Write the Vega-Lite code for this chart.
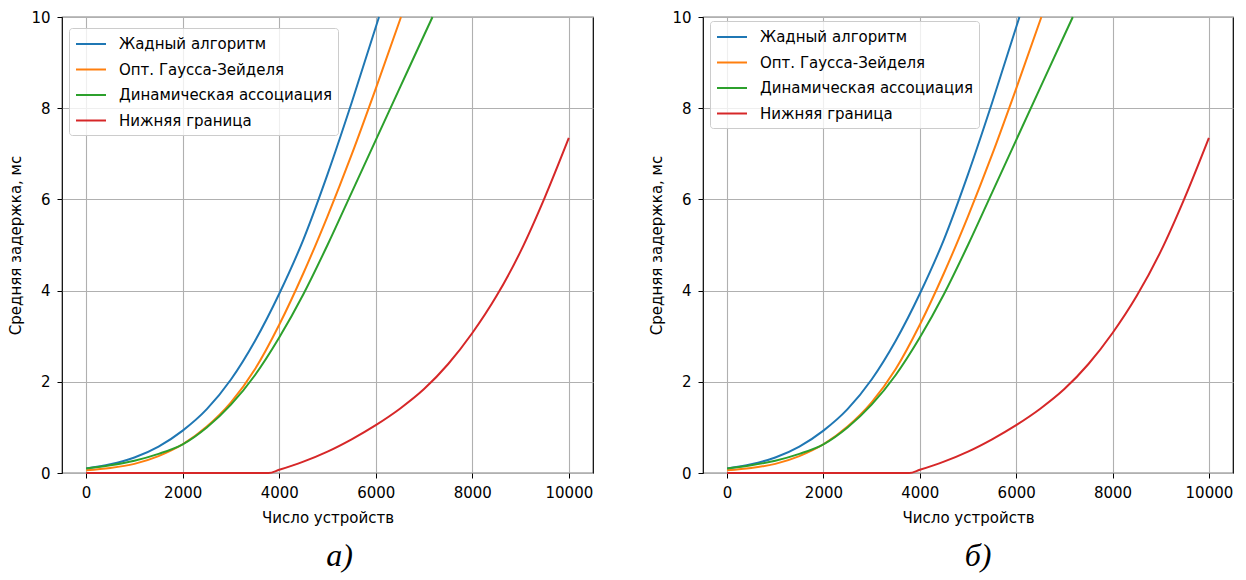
{
  "$schema": "https://vega.github.io/schema/vega-lite/v6.json",
  "background": "white",
  "padding": {"left": 8, "top": 9, "right": 5, "bottom": 5},
  "config": {
    "font": "DejaVu Sans",
    "view": {"stroke": "black", "strokeWidth": 1.2},
    "axis": {
      "labelFont": "DejaVu Sans", "labelFontSize": 15, "labelColor": "black",
      "titleFont": "DejaVu Sans", "titleFontSize": 15, "titleFontWeight": "normal", "titleColor": "black",
      "gridColor": "#b0b0b0", "gridWidth": 1.1, "gridOpacity": 1,
      "domain": false, "tickColor": "black", "tickSize": 5, "tickWidth": 1, "labelPadding": 7,
      "labelFlush": false, "labelOverlap": false
    },
    "legend": {
      "labelFont": "DejaVu Sans", "labelFontSize": 15, "labelColor": "black", "labelLimit": 400
    }
  },
  "datasets": {
    "curves": [
      {"x": 0, "y": 0.10, "s": "Жадный алгоритм"},
      {"x": 500, "y": 0.19, "s": "Жадный алгоритм"},
      {"x": 1000, "y": 0.34, "s": "Жадный алгоритм"},
      {"x": 1500, "y": 0.58, "s": "Жадный алгоритм"},
      {"x": 2000, "y": 0.93, "s": "Жадный алгоритм"},
      {"x": 2500, "y": 1.40, "s": "Жадный алгоритм"},
      {"x": 3000, "y": 2.05, "s": "Жадный алгоритм"},
      {"x": 3500, "y": 2.90, "s": "Жадный алгоритм"},
      {"x": 4000, "y": 3.93, "s": "Жадный алгоритм"},
      {"x": 4500, "y": 5.12, "s": "Жадный алгоритм"},
      {"x": 5000, "y": 6.55, "s": "Жадный алгоритм"},
      {"x": 5500, "y": 8.12, "s": "Жадный алгоритм"},
      {"x": 6067, "y": 10, "s": "Жадный алгоритм"},
      {"x": 0, "y": 0.06, "s": "Опт. Гаусса-Зейделя"},
      {"x": 500, "y": 0.11, "s": "Опт. Гаусса-Зейделя"},
      {"x": 1000, "y": 0.20, "s": "Опт. Гаусса-Зейделя"},
      {"x": 1500, "y": 0.37, "s": "Опт. Гаусса-Зейделя"},
      {"x": 2000, "y": 0.63, "s": "Опт. Гаусса-Зейделя"},
      {"x": 2500, "y": 1.02, "s": "Опт. Гаусса-Зейделя"},
      {"x": 3000, "y": 1.55, "s": "Опт. Гаусса-Зейделя"},
      {"x": 3500, "y": 2.28, "s": "Опт. Гаусса-Зейделя"},
      {"x": 4000, "y": 3.25, "s": "Опт. Гаусса-Зейделя"},
      {"x": 4500, "y": 4.38, "s": "Опт. Гаусса-Зейделя"},
      {"x": 5000, "y": 5.63, "s": "Опт. Гаусса-Зейделя"},
      {"x": 5500, "y": 6.98, "s": "Опт. Гаусса-Зейделя"},
      {"x": 6000, "y": 8.43, "s": "Опт. Гаусса-Зейделя"},
      {"x": 6523, "y": 10, "s": "Опт. Гаусса-Зейделя"},
      {"x": 0, "y": 0.10, "s": "Динамическая ассоциация"},
      {"x": 500, "y": 0.17, "s": "Динамическая ассоциация"},
      {"x": 1000, "y": 0.27, "s": "Динамическая ассоциация"},
      {"x": 1500, "y": 0.42, "s": "Динамическая ассоциация"},
      {"x": 2000, "y": 0.63, "s": "Динамическая ассоциация"},
      {"x": 2500, "y": 1.00, "s": "Динамическая ассоциация"},
      {"x": 3000, "y": 1.50, "s": "Динамическая ассоциация"},
      {"x": 3500, "y": 2.15, "s": "Динамическая ассоциация"},
      {"x": 4000, "y": 2.97, "s": "Динамическая ассоциация"},
      {"x": 4500, "y": 3.92, "s": "Динамическая ассоциация"},
      {"x": 5000, "y": 5.00, "s": "Динамическая ассоциация"},
      {"x": 5500, "y": 6.15, "s": "Динамическая ассоциация"},
      {"x": 6000, "y": 7.30, "s": "Динамическая ассоциация"},
      {"x": 6500, "y": 8.45, "s": "Динамическая ассоциация"},
      {"x": 7000, "y": 9.60, "s": "Динамическая ассоциация"},
      {"x": 7175, "y": 10, "s": "Динамическая ассоциация"},
      {"x": 0, "y": 0, "s": "Нижняя граница"},
      {"x": 1000, "y": 0, "s": "Нижняя граница"},
      {"x": 2000, "y": 0, "s": "Нижняя граница"},
      {"x": 3000, "y": 0, "s": "Нижняя граница"},
      {"x": 3780, "y": 0, "s": "Нижняя граница"},
      {"x": 4000, "y": 0.07, "s": "Нижняя граница"},
      {"x": 4500, "y": 0.25, "s": "Нижняя граница"},
      {"x": 5000, "y": 0.47, "s": "Нижняя граница"},
      {"x": 5500, "y": 0.74, "s": "Нижняя граница"},
      {"x": 6000, "y": 1.05, "s": "Нижняя граница"},
      {"x": 6500, "y": 1.41, "s": "Нижняя граница"},
      {"x": 7000, "y": 1.84, "s": "Нижняя граница"},
      {"x": 7500, "y": 2.39, "s": "Нижняя граница"},
      {"x": 8000, "y": 3.07, "s": "Нижняя граница"},
      {"x": 8500, "y": 3.88, "s": "Нижняя граница"},
      {"x": 9000, "y": 4.86, "s": "Нижняя граница"},
      {"x": 9500, "y": 6.04, "s": "Нижняя граница"},
      {"x": 10000, "y": 7.35, "s": "Нижняя граница"}
    ]
  },
  "spacing": 55,
  "resolve": {"legend": {"color": "independent"}},
  "hconcat": [
    {
      "width": 531, "height": 456,
      "data": {"name": "curves"},
      "title": {"text": "а)", "orient": "bottom", "anchor": "middle", "font": "Liberation Serif", "fontStyle": "italic", "fontWeight": "normal", "fontSize": 32, "color": "black", "offset": 16, "dx": 12},
      "mark": {"type": "line", "interpolate": "monotone", "strokeWidth": 2, "clip": false},
      "encoding": {
        "x": {"field": "x", "type": "quantitative", "title": "Число устройств",
              "scale": {"domain": [-500, 10500], "nice": false, "zero": false},
              "axis": {"values": [0, 2000, 4000, 6000, 8000, 10000], "format": "d", "titlePadding": 10}},
        "y": {"field": "y", "type": "quantitative", "title": "Средняя задержка, мс",
              "scale": {"domain": [0, 10], "nice": false},
              "axis": {"values": [0, 2, 4, 6, 8, 10], "format": "d", "titlePadding": 7}},
        "color": {"field": "s", "type": "nominal", "sort": null,
                  "scale": {"domain": ["Жадный алгоритм", "Опт. Гаусса-Зейделя", "Динамическая ассоциация", "Нижняя граница"], "range": ["#1f77b4", "#ff7f0e", "#2ca02c", "#d62728"]},
                  "legend": {"title": null, "orient": "none", "legendX": 7, "legendY": 11, "symbolType": "M-1.667,0H1.667", "symbolSize": 324, "symbolOffset": 6, "symbolStrokeWidth": 2, "rowPadding": 7.5, "labelOffset": 18, "padding": 6, "fillColor": "rgba(255,255,255,0.8)", "strokeColor": "#cccccc", "cornerRadius": 3}}
      }
    },
    {
      "width": 530, "height": 456,
      "data": {"name": "curves"},
      "title": {"text": "б)", "orient": "bottom", "anchor": "middle", "font": "Liberation Serif", "fontStyle": "italic", "fontWeight": "normal", "fontSize": 32, "color": "black", "offset": 16, "dx": 10},
      "mark": {"type": "line", "interpolate": "monotone", "strokeWidth": 2, "clip": false},
      "encoding": {
        "x": {"field": "x", "type": "quantitative", "title": "Число устройств",
              "scale": {"domain": [-500, 10500], "nice": false, "zero": false},
              "axis": {"values": [0, 2000, 4000, 6000, 8000, 10000], "format": "d", "titlePadding": 10}},
        "y": {"field": "y", "type": "quantitative", "title": "Средняя задержка, мс",
              "scale": {"domain": [0, 10], "nice": false},
              "axis": {"values": [0, 2, 4, 6, 8, 10], "format": "d", "titlePadding": 7}},
        "color": {"field": "s", "type": "nominal", "sort": null,
                  "scale": {"domain": ["Жадный алгоритм", "Опт. Гаусса-Зейделя", "Динамическая ассоциация", "Нижняя граница"], "range": ["#1f77b4", "#ff7f0e", "#2ca02c", "#d62728"]},
                  "legend": {"title": null, "orient": "none", "legendX": 7, "legendY": 4, "symbolType": "M-1.667,0H1.667", "symbolSize": 324, "symbolOffset": 6, "symbolStrokeWidth": 2, "rowPadding": 7.5, "labelOffset": 18, "padding": 6, "fillColor": "rgba(255,255,255,0.8)", "strokeColor": "#cccccc", "cornerRadius": 3}}
      }
    }
  ]
}
